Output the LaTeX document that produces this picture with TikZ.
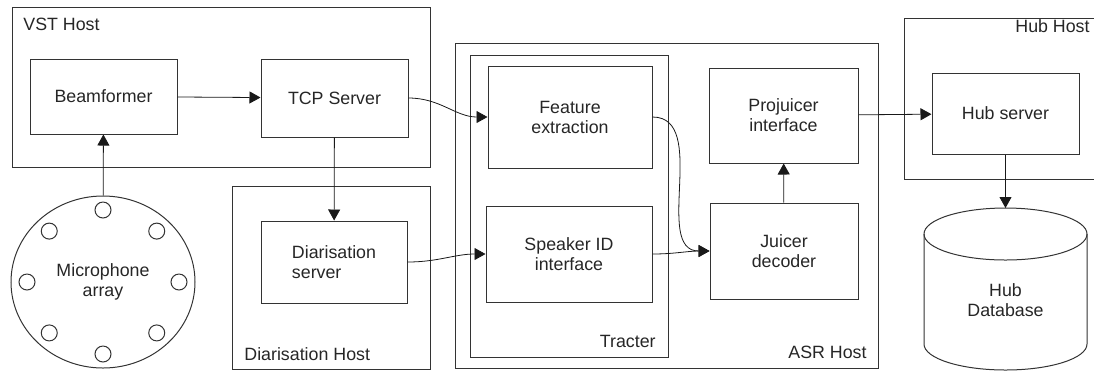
\documentclass[tikz,border=0pt]{standalone}
\usepackage{fontspec}
\setmainfont{Liberation Sans}
\usetikzlibrary{arrows.meta,shapes.geometric}

\begin{document}
\begin{tikzpicture}[x=0.5pt,y=-0.5pt,
        font=\fontsize{8.9}{10}\selectfont,
        every node/.style={text=black!85},
        >={Triangle[length=5.5pt,width=6pt]},
        box/.style={draw=black!80,line width=0.5pt,minimum width=73.5pt,minimum height=37.5pt,align=center,inner sep=0pt},
        host/.style={draw=black!80,line width=0.5pt},
        hostlabel/.style={inner sep=0pt},
        conn/.style={black!90,line width=0.4pt}]
        \useasboundingbox (0,0) rectangle (1094,372);

        % hosts
        \draw[host] (12,7) rectangle (430,167);
        \draw[host] (232,186) rectangle (430,369);
        \draw[host] (455,43) rectangle (878,368);
        \draw[host] (470,55) rectangle (668,357);
        \draw[host] (904,18) rectangle (1100,179);
        \node[hostlabel,anchor=base west] (vstlabel) at (23,30) {VST Host};
        \node[hostlabel,anchor=base west] (diarlabel) at (244,360) {Diarisation Host};
        \node[hostlabel,anchor=base east] (tracterlabel) at (656,347) {Tracter};
        \node[hostlabel,anchor=base east] (asrlabel) at (867,358) {ASR Host};
        \node[hostlabel,anchor=base east] (hublabel) at (1090,32) {Hub Host};

        % components
        \node[box] (beam) at (103.5,96.5) {Beamformer};
        \node[box,minimum height=39pt] (tcp) at (334.5,98) {TCP Server};
        \node[box,minimum width=73pt,minimum height=41pt,align=left] (diar) at (334,262) {Diarisation\\server};
        \node[box,minimum width=82pt,minimum height=51pt] (feat) at (570,117) {Feature\\extraction};
        \node[box,minimum width=83pt,minimum height=48pt] (spk) at (569,254) {Speaker ID\\interface};
        \node[box,minimum width=74.5pt,minimum height=47.5pt] (proj) at (783.5,115.5) {Projuicer\\interface};
        \node[box,minimum width=74pt,minimum height=48pt] (juicer) at (784,251) {Juicer\\decoder};
        \node[box,minimum height=40.5pt] (hub) at (1005.5,113.5) {Hub server};

        % microphone array
        \node[host,ellipse,minimum width=92pt,minimum height=86pt,inner sep=0pt,align=center] (mic) at (103,282) {Microphone\\array};
        \foreach \a in {0,45,...,315}
            \draw[host] (mic.center) ++(\a:38pt and 36pt) circle[radius=4pt];

        % database
        \draw[host] (924,234) -- (924,344) arc[start angle=180,end angle=360,x radius=40.75pt,y radius=13pt] -- (1087,234);
        \draw[host] (1005.5,234) ellipse[x radius=40.75pt,y radius=13pt];
        \node[align=center] (db) at (1005.5,300) {Hub\\Database};
        \coordinate (dbtop) at (1005.5,208);

        \draw[conn,->] (mic) -- (beam);
        \draw[conn,->] (beam) -- (tcp);
        \draw[conn,->] (tcp) -- (diar);
        \draw[conn,->] (tcp.east) to[out=0,in=180] (feat.west);
        \draw[conn,->] (diar.east) to[out=0,in=180] (spk.west);
        \draw[conn,->] (feat.east) to[out=0,in=180] (juicer.west);
        \draw[conn,->] (spk.east) to[out=0,in=180] (juicer.west);
        \draw[conn,->] (juicer) -- (proj);
        \draw[conn,->] (proj) -- (hub);
        \draw[conn,->] (hub) -- (dbtop);
    \end{tikzpicture}
\end{document}
